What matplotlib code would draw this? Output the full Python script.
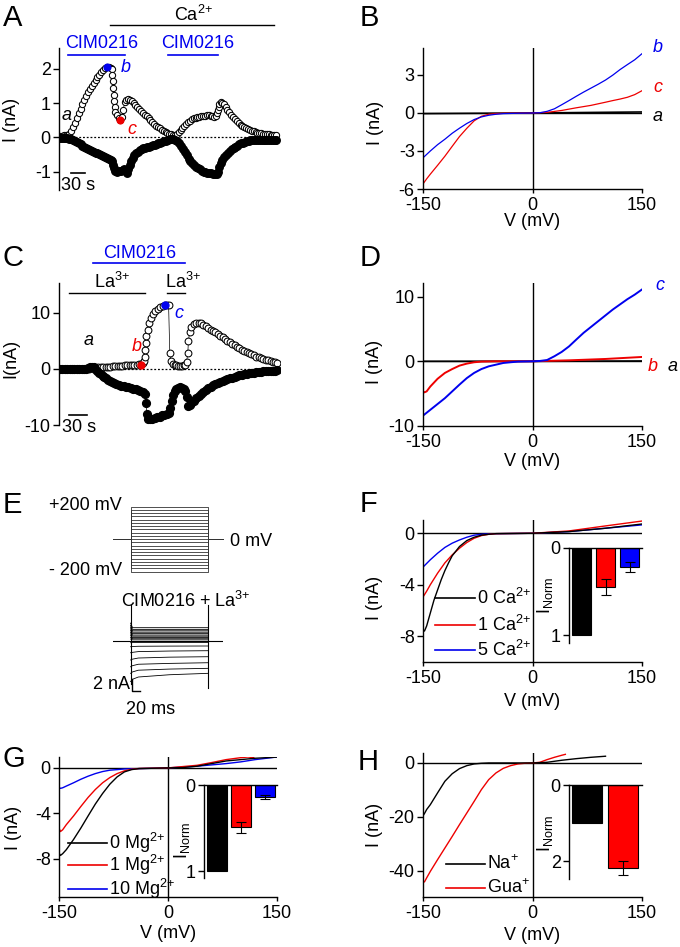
import numpy as np
import matplotlib
matplotlib.use('Agg')
import matplotlib.pyplot as plt

plt.rcParams['font.family'] = ['Liberation Sans', 'DejaVu Sans']
plt.rcParams['font.size'] = 13
plt.rcParams['mathtext.fontset'] = 'custom'
plt.rcParams['mathtext.rm'] = 'Liberation Sans'
plt.rcParams['mathtext.it'] = 'Liberation Sans:italic'
plt.rcParams['axes.unicode_minus'] = False
plt.rcParams['axes.linewidth'] = 1.0

W, H = 680, 947
BLUE = '#0000ee'
RED = '#ee0000'

# ---------------- data ----------------
# A: time course (s), open = outward current, filled = inward current (nA)
a_open_t = [0, 4, 8, 12, 16, 20, 24, 28, 32, 36, 40, 44, 48, 52, 56, 60, 64, 68, 72, 76, 80, 84, 88, 92,
            96, 100, 104, 108, 111, 112, 113, 114, 115, 116, 117, 118, 121, 125, 129, 133, 135, 138, 141,
            145, 149, 153, 157, 161, 165, 169, 173, 177, 181, 185, 189, 193, 197, 201, 205, 209, 213, 217,
            221, 225, 229, 233, 237, 241, 245, 249, 253, 257, 261, 265, 269, 273, 277, 281, 285, 289, 293,
            297, 301, 305, 309, 313, 317, 321, 325, 329, 332, 334, 336, 338, 340, 343, 346, 349, 353, 357,
            361, 365, 369, 373, 377, 381, 385, 389, 393, 397, 401, 405, 409, 413, 417, 421, 425, 429, 433,
            437, 441, 445, 449, 453, 457, 461]
a_open_i = [0.05, 0.05, 0.06, 0.06, 0.07, 0.1, 0.18, 0.3, 0.42, 0.55, 0.7, 0.84, 0.98, 1.1, 1.22, 1.32,
            1.42, 1.51, 1.6, 1.68, 1.75, 1.83, 1.9, 1.96, 2.02, 2.06, 2.06, 2.03, 2.0, 1.83, 1.64, 1.44,
            1.25, 1.05, 0.9, 0.75, 0.66, 0.57, 0.51, 0.6, 0.8, 1.03, 1.1, 1.13, 1.1, 1.06, 1.0, 0.95, 0.89,
            0.83, 0.78, 0.72, 0.66, 0.61, 0.56, 0.5, 0.44, 0.39, 0.34, 0.3, 0.26, 0.22, 0.19, 0.16, 0.13,
            0.11, 0.09, 0.07, 0.08, 0.11, 0.16, 0.22, 0.28, 0.32, 0.38, 0.44, 0.49, 0.53, 0.55, 0.57, 0.58,
            0.6, 0.61, 0.62, 0.63, 0.64, 0.64, 0.63, 0.61, 0.6, 0.63, 0.7, 0.8, 0.9, 0.97, 1.02, 1.01, 0.96,
            0.89, 0.81, 0.74, 0.66, 0.59, 0.53, 0.47, 0.42, 0.37, 0.32, 0.29, 0.26, 0.23, 0.21, 0.19, 0.17,
            0.15, 0.14, 0.13, 0.12, 0.11, 0.1, 0.1, 0.09, 0.08, 0.08, 0.07, 0.07]
a_fill_t = [0, 4, 8, 12, 16, 20, 24, 28, 32, 36, 40, 44, 48, 52, 56, 60, 64, 68, 72, 76, 80, 84, 88, 92,
            96, 100, 104, 108, 111, 113, 115, 118, 122, 126, 130, 134, 137, 140, 143, 146, 149, 152, 155,
            158, 162, 166, 170, 174, 178, 182, 186, 190, 194, 198, 202, 206, 210, 214, 218, 222, 226, 230,
            234, 238, 242, 246, 250, 254, 258, 262, 266, 270, 274, 278, 282, 286, 290, 294, 298, 302, 306,
            310, 314, 318, 322, 326, 330, 334, 337, 340, 343, 346, 350, 354, 358, 362, 366, 370, 374, 378,
            382, 386, 390, 394, 398, 402, 406, 410, 414, 418, 422, 426, 430, 434, 438, 442, 446, 450, 454,
            458, 461]
a_fill_i = [-0.03, -0.03, -0.03, -0.03, -0.03, -0.04, -0.06, -0.08, -0.1, -0.13, -0.17, -0.2, -0.24,
            -0.28, -0.31, -0.34, -0.37, -0.4, -0.43, -0.45, -0.47, -0.5, -0.52, -0.55, -0.58, -0.61, -0.63,
            -0.66, -0.7, -0.8, -0.9, -0.98, -1.0, -0.99, -0.99, -0.95, -0.93, -0.98, -1.03, -0.92, -0.8,
            -0.68, -0.6, -0.53, -0.47, -0.42, -0.38, -0.35, -0.32, -0.3, -0.28, -0.27, -0.25, -0.23, -0.22,
            -0.2, -0.18, -0.16, -0.14, -0.12, -0.1, -0.08, -0.06, -0.05, -0.05, -0.07, -0.1, -0.17, -0.24,
            -0.33, -0.43, -0.53, -0.62, -0.7, -0.76, -0.82, -0.87, -0.9, -0.94, -0.98, -1.0, -1.02, -1.03,
            -1.04, -1.05, -1.06, -1.06, -1.06, -1.0, -0.88, -0.76, -0.66, -0.58, -0.51, -0.45, -0.39, -0.34,
            -0.3, -0.27, -0.24, -0.21, -0.18, -0.16, -0.14, -0.12, -0.1, -0.09, -0.08, -0.07, -0.07, -0.07,
            -0.07, -0.07, -0.07, -0.07, -0.07, -0.07, -0.07, -0.07, -0.07, -0.07]
a_mark_b = (100, 2.06)
a_mark_c = (129, 0.51)

# C: time course with La3+
c_open_t = [0, 4, 8, 12, 16, 20, 24, 28, 32, 36, 40, 44, 48, 52, 56, 60, 64, 68, 72, 76, 80, 84, 88, 92,
            96, 100, 104, 108, 112, 116, 120, 124, 128, 132, 135, 138, 140, 141, 142, 143, 144, 146, 148,
            151, 155, 159, 163, 167, 171, 175, 179, 181, 183, 185, 188, 191, 194, 197, 200, 203, 206, 209,
            211, 213, 214, 216, 219, 223, 227, 231, 235, 239, 243, 247, 251, 255, 259, 263, 267, 271, 275,
            279, 283, 287, 291, 295, 299, 303, 307, 311, 315, 319, 323, 327, 331, 335, 339, 343, 347, 351,
            355, 359, 362]
c_open_i = [0.0, 0.0, 0.0, 0.0, 0.0, 0.0, 0.0, 0.0, 0.0, 0.0, 0.0, 0.0, 0.05, 0.15, 0.2, 0.22, 0.25,
            0.28, 0.32, 0.35, 0.38, 0.42, 0.45, 0.5, 0.53, 0.57, 0.6, 0.63, 0.66, 0.7, 0.72, 0.75, 0.77,
            0.78, 0.8, 1.0, 1.4, 2.2, 3.4, 4.6, 5.8, 6.9, 8.1, 9.1, 9.8, 10.3, 10.7, 11.0, 11.2, 11.35,
            11.35, 11.3, 2.8, 1.35, 0.9, 0.75, 0.65, 0.6, 0.6, 0.6, 0.62, 0.7, 1.3, 2.8, 4.9, 6.6, 7.5,
            8.0, 8.2, 8.25, 8.1, 7.9, 7.6, 7.3, 7.0, 6.8, 6.5, 6.2, 5.9, 5.6, 5.3, 5.0, 4.75, 4.5, 4.2,
            3.95, 3.7, 3.45, 3.2, 3.0, 2.8, 2.6, 2.4, 2.2, 2.05, 1.9, 1.75, 1.6, 1.5, 1.35, 1.25, 1.15, 1.1]
c_fill_t = [0, 4, 8, 12, 16, 20, 24, 28, 32, 36, 40, 44, 47, 50, 53, 56, 59, 62, 65, 68, 71, 74, 77, 80,
            83, 86, 90, 94, 98, 102, 106, 110, 114, 118, 122, 126, 130, 134, 138, 141, 143, 145, 147, 150,
            154, 158, 162, 166, 170, 174, 178, 182, 184, 186, 188, 191, 194, 197, 200, 203, 206, 209, 211,
            213, 216, 219, 223, 227, 231, 235, 239, 243, 247, 251, 255, 259, 263, 267, 271, 275, 279, 283,
            287, 291, 295, 299, 303, 307, 311, 315, 319, 323, 327, 331, 335, 339, 343, 347, 351, 355, 359,
            362]
c_fill_i = [0.0, 0.0, 0.0, 0.0, 0.0, 0.0, 0.0, 0.0, 0.0, 0.0, 0.0, 0.0, 0.1, 0.25, 0.35, 0.3, 0.05, -0.4,
            -0.75, -1.0, -1.25, -1.5, -1.7, -1.9, -2.1, -2.3, -2.5, -2.7, -2.9, -3.0, -3.1, -3.2, -3.3,
            -3.45, -3.55, -3.65, -3.75, -3.9, -4.1, -4.5, -6.0, -8.1, -8.9, -9.0, -8.9, -8.8, -8.6, -8.5,
            -8.3, -8.2, -8.0, -7.8, -7.0, -5.8, -4.6, -3.9, -3.5, -3.35, -3.3, -3.4, -3.6, -4.0, -5.0, -6.6,
            -6.5, -6.1, -5.7, -5.2, -4.8, -4.4, -4.05, -3.75, -3.45, -3.15, -2.9, -2.7, -2.5, -2.3, -2.15,
            -2.0, -1.85, -1.7, -1.55, -1.42, -1.3, -1.18, -1.08, -0.98, -0.88, -0.8, -0.72, -0.65, -0.58,
            -0.53, -0.48, -0.44, -0.4, -0.37, -0.34, -0.31, -0.29, -0.28]
c_mark_b = (135, 0.7)
c_mark_c = (175, 11.35)

# B: I-V curves a, b, c
b_v_a = [-150, 0, 150]
b_i_a = [-0.05, 0.0, 0.08]
b_v_b = [-150, -140, -130, -120, -110, -100, -90, -80, -70, -60, -50, -40, -20, 0, 10, 20, 30, 40, 50,
         60, 70, 80, 90, 100, 110, 120, 130, 140, 150]
b_i_b = [-3.54, -3.0, -2.5, -2.07, -1.6, -1.2, -0.83, -0.52, -0.31, -0.18, -0.1, -0.05, -0.02, 0.0,
         0.02, 0.13, 0.33, 0.65, 0.98, 1.32, 1.65, 1.96, 2.27, 2.6, 2.99, 3.43, 3.82, 4.2, 4.68]
b_v_c = [-150, -145, -140, -130, -120, -110, -100, -90, -80, -70, -60, -50, -40, 0, 20, 40, 60, 80, 100,
         110, 120, 130, 140, 150]
b_i_c = [-5.6, -5.2, -4.83, -4.13, -3.41, -2.63, -1.86, -1.21, -0.62, -0.26, -0.1, -0.05, -0.02, 0.0,
         0.05, 0.2, 0.41, 0.6, 0.85, 0.98, 1.1, 1.24, 1.45, 1.76]

# D: I-V curves a, b, c
d_v_a = [-150, 0, 150]
d_i_a = [0.0, 0.0, 0.05]
d_v_b = [-150, -148, -145, -140, -130, -120, -110, -100, -90, -80, -70, -50, 0, 50, 100, 150]
d_i_b = [-4.65, -4.8, -4.65, -3.9, -2.7, -1.8, -1.2, -0.67, -0.36, -0.15, -0.05, 0.0, 0.0, 0.15, 0.36,
         0.67]
d_v_c = [-150, -140, -130, -120, -110, -100, -90, -80, -70, -60, -50, -40, -30, -20, 0, 10, 20, 30, 40,
         50, 60, 70, 80, 90, 100, 110, 120, 130, 140, 150]
d_i_c = [-8.4, -7.5, -6.6, -5.7, -4.65, -3.6, -2.6, -1.8, -1.2, -0.78, -0.52, -0.26, -0.15, -0.05, 0.0,
         0.05, 0.2, 0.78, 1.45, 2.3, 3.36, 4.4, 5.3, 6.2, 7.1, 8.0, 8.8, 9.6, 10.3, 11.1]

# E: voltage protocol (mV) and currents (nA) at sample times (ms)
e_volt = [-200, -180, -160, -140, -120, -100, -80, -60, -40, -20, 0, 20, 40, 60, 80, 100, 120, 140,
          160, 180, 200]
e_time = [0, 5, 20, 100, 200]
e_curr = [[-7.2, -6.8, -6.4, -6.0, -5.75], [-5.75, -5.5, -5.2, -5.0, -4.87],
          [-4.6, -4.4, -4.15, -4.0, -3.88], [-3.4, -3.25, -3.05, -2.9, -2.82],
          [-2.12, -2.05, -1.92, -1.82, -1.76], [-1.06, -1.02, -0.98, -0.95, -0.93],
          [-0.35, -0.33, -0.32, -0.3, -0.3], [-0.1, -0.1, -0.1, -0.1, -0.1],
          [-0.03, -0.03, -0.03, -0.03, -0.03], [0.0, 0.0, 0.0, 0.0, 0.0], [0.0, 0.0, 0.0, 0.0, 0.0],
          [0.3, 0.15, 0.15, 0.15, 0.15], [0.6, 0.35, 0.35, 0.35, 0.35], [0.9, 0.55, 0.55, 0.55, 0.55],
          [1.2, 0.8, 0.8, 0.8, 0.8], [1.5, 1.0, 1.0, 1.0, 1.0], [1.8, 1.25, 1.25, 1.25, 1.25],
          [2.1, 1.5, 1.5, 1.5, 1.5], [2.4, 1.75, 1.75, 1.75, 1.75], [2.7, 2.0, 2.0, 2.0, 2.0],
          [3.1, 2.3, 2.3, 2.3, 2.3]]
e_pre, e_step, e_post = -46, 200, 237

# F: Ca2+ dependence
f_labels = ['0 Ca$^{2{+}}$', '1 Ca$^{2{+}}$', '5 Ca$^{2{+}}$']
f_v0 = [-150, -148, -145, -140, -135, -130, -125, -120, -115, -110, -100, -90, -80, -70, -60, -50, 0, 50,
        100, 150]
f_i0 = [-7.48, -7.6, -7.2, -6.2, -5.2, -4.4, -3.6, -2.9, -2.3, -1.75, -1.03, -0.57, -0.31, -0.15, -0.08,
        -0.03, 0.0, 0.13, 0.39, 0.72]
f_v1 = [-150, -145, -140, -130, -120, -110, -100, -90, -80, -70, -60, -50, 0, 50, 100, 150]
f_i1 = [-4.95, -4.5, -4.0, -3.1, -2.3, -1.68, -1.16, -0.72, -0.39, -0.18, -0.08, -0.03, 0.0, 0.18, 0.57,
        0.95]
f_v5 = [-150, -140, -130, -120, -110, -100, -90, -80, -70, -60, 0, 50, 100, 150]
f_i5 = [-2.63, -2.06, -1.55, -1.1, -0.77, -0.52, -0.31, -0.15, -0.08, -0.04, 0.0, 0.13, 0.39, 0.65]
f_norm = [1.0, 0.45, 0.22]
f_err = [0.0, 0.09, 0.06]

# G: Mg2+ dependence
g_labels = ['0 Mg$^{2{+}}$', '1 Mg$^{2{+}}$', '10 Mg$^{2{+}}$']
g_v0 = [-150, -148, -145, -140, -130, -120, -110, -100, -90, -80, -70, -60, -50, -40, 0, 20, 40, 60, 80,
        100, 120, 150]
g_i0 = [-7.5, -7.7, -7.55, -7.2, -6.3, -5.3, -4.23, -3.18, -2.25, -1.43, -0.79, -0.35, -0.15, -0.06,
        0.0, 0.03, 0.15, 0.38, 0.61, 0.73, 0.85, 0.95]
g_v1 = [-150, -148, -145, -140, -130, -120, -110, -100, -90, -80, -70, -60, -50, -40, 0, 40, 60, 80,
        100, 110, 118]
g_i1 = [-5.3, -5.6, -5.45, -5.0, -4.23, -3.4, -2.6, -1.9, -1.31, -0.85, -0.5, -0.26, -0.12, -0.05, 0.0,
        0.23, 0.47, 0.73, 0.9, 0.96, 0.9]
g_v10 = [-150, -148, -145, -140, -130, -120, -110, -100, -90, -80, -70, -60, 0, 40, 80, 100, 120, 150]
g_i10 = [-1.72, -1.8, -1.75, -1.6, -1.31, -1.0, -0.73, -0.5, -0.32, -0.2, -0.15, -0.09, 0.0, 0.15, 0.38,
         0.53, 0.73, 0.96]
g_norm = [1.0, 0.49, 0.14]
g_err = [0.0, 0.065, 0.02]

# H: Na+ vs guanidinium
h_labels = ['Na$^{+}$', 'Gua$^{+}$']
h_v_na = [-150, -148, -145, -140, -130, -120, -110, -100, -90, -80, -70, -60, 0, 20, 40, 60, 80, 100]
h_i_na = [-19.6, -18.8, -17.3, -15.5, -11.1, -6.8, -4.0, -2.1, -1.0, -0.37, -0.12, 0.0, 0.0, 0.25, 1.0,
          1.6, 2.1, 2.5]
h_v_gua = [-150, -148, -145, -140, -130, -120, -110, -100, -90, -80, -70, -60, -50, -40, -30, -20, -10, 0,
           10, 20, 30, 40, 45]
h_i_gua = [-44.0, -44.2, -42.7, -40.3, -35.9, -31.6, -27.3, -22.9, -18.6, -14.3, -9.9, -6.2, -3.7, -2.0,
           -1.0, -0.37, -0.1, 0.0, 0.25, 1.24, 2.1, 2.85, 3.2]
h_norm = [1.0, 2.18]
h_err = [0.0, 0.18]

# ---------------- helpers ----------------
fig = plt.figure(figsize=(6.8, 9.47), dpi=100)


def add_ax(x0, y0, x1, y1):
    return fig.add_axes([x0 / W, 1 - y1 / H, (x1 - x0) / W, (y1 - y0) / H])


def ftext(x, y, s, **kw):
    kw.setdefault('ha', 'center')
    kw.setdefault('va', 'center')
    fig.text(x / W, 1 - y / H, s, **kw)


def letter(x, y, s):
    fig.text(x / W, 1 - y / H, s, fontsize=21, ha='left', va='baseline')


def trace_axes(ax, xlim, ylim, yticks):
    for s in ('top', 'right', 'bottom'):
        ax.spines[s].set_visible(False)
    ax.set_xticks([])
    ax.set_xlim(*xlim)
    ax.set_ylim(*ylim)
    ax.set_yticks(yticks)
    ax.tick_params(axis='y', length=4, width=1, pad=2)
    ax.patch.set_alpha(0)


def iv_axes(ax, ylim, yticks):
    ax.spines['top'].set_visible(False)
    ax.spines['right'].set_visible(False)
    ax.set_xlim(-150, 150)
    ax.set_ylim(*ylim)
    ax.set_xticks([-150, 0, 150])
    ax.set_yticks(yticks)
    ax.axvline(0, color='k', lw=1.0)
    ax.axhline(0, color='k', lw=1.0)
    ax.tick_params(axis='y', length=4, width=1, pad=2)
    ax.tick_params(axis='x', length=3, width=1, pad=3)
    ax.patch.set_alpha(0)


def inset_bars(ax, vals, errs, colors, ymax, yticks, width):
    x = np.arange(len(vals))
    ax.bar(x, vals, width=width, color=colors, edgecolor='k', lw=0.8)
    ax.errorbar(x[1:], vals[1:], yerr=errs[1:], fmt='none', ecolor='k', elinewidth=0.8, capsize=3.5,
                capthick=0.8)
    ax.set_ylim(ymax, 0)
    ax.set_yticks(yticks)
    ax.spines['bottom'].set_visible(False)
    ax.spines['right'].set_visible(False)
    ax.set_xticks([])
    ax.tick_params(axis='y', length=4, width=1, pad=2)
    ax.patch.set_alpha(0)


def legend_rows(x0, x1, ys, colors, labels):
    for y, c, lab in zip(ys, colors, labels):
        fig.add_artist(plt.Line2D([x0 / W, x1 / W], [1 - y / H, 1 - y / H], color=c, lw=1.2))
        ftext(x1 + 2, y, lab, ha='left')


open_kw = dict(color='k', lw=0.5, marker='o', mfc='w', mec='k', mew=0.75)
fill_kw = dict(color='k', lw=0.5, marker='o', mfc='k', mec='k')

# ---------------- A ----------------
axA = add_ax(59, 48, 280, 190)
trace_axes(axA, (-2, 469), (-1.54, 2.61), [-1, 0, 1, 2])
axA.plot([a_open_t[0], a_open_t[-1]], [0, 0], color='k', lw=0.9, ls=(0, (1.5, 1.5)))
axA.plot(a_open_t, a_open_i, ms=4.5, **open_kw)
axA.plot(a_fill_t, a_fill_i, ms=5.4, **fill_kw)
axA.plot(*a_mark_b, 'o', ms=4.8, color=BLUE)
axA.plot(*a_mark_c, 'o', ms=4.8, color=RED)
axA.plot([107, 456], [3.28, 3.28], color='k', lw=1.0, clip_on=False)
axA.text(285, 3.41, 'Ca$^{2{+}}$', ha='center', va='baseline')
for t0, t1, tc in [(17, 139, 88), (231, 336, 294)]:
    axA.plot([t0, t1], [2.41, 2.41], color=BLUE, lw=1.2, clip_on=False)
    axA.text(tc, 2.6, 'CIM0216', color=BLUE, ha='center', va='baseline')
axA.plot([23.6, 53.6], [-1.04, -1.04], color='k', lw=1.2)
axA.text(38.6, -1.42, '30 s', ha='center', va='center')
ftext(11, 120, 'I (nA)', rotation=90)
ftext(67, 115, 'a', style='italic')
ftext(126, 68, 'b', style='italic', color=BLUE)
ftext(132, 129, 'c', style='italic', color=RED)
letter(3, 26, 'A')

# ---------------- B ----------------
axB = add_ax(423, 48, 642, 189)
iv_axes(axB, (-6, 5.13), [-6, -3, 0, 3])
axB.plot(b_v_a, b_i_a, color='k', lw=1.2)
axB.plot(b_v_c, b_i_c, color=RED, lw=0.9)
axB.plot(b_v_b, b_i_b, color=BLUE, lw=0.9)
ftext(375, 123, 'I (nA)', rotation=90)
ftext(532, 221, 'V (mV)')
ftext(658, 47, 'b', style='italic', color=BLUE)
ftext(658, 88, 'c', style='italic', color=RED)
ftext(658, 116, 'a', style='italic')
letter(360, 26, 'B')

# ---------------- C ----------------
axC = add_ax(59, 283, 280, 425)
trace_axes(axC, (-1.7, 366.7), (-10, 15.3), [-10, 0, 10])
axC.plot([c_open_t[0], c_open_t[-1]], [0, 0], color='k', lw=0.9, ls=(0, (1.5, 1.5)))
axC.plot(c_open_t, c_open_i, ms=4.9, **open_kw)
axC.plot(c_fill_t, c_fill_i, ms=5.6, **fill_kw)
axC.plot(*c_mark_b, 'o', ms=5.0, color=RED)
axC.plot(*c_mark_c, 'o', ms=5.0, color=BLUE)
axC.plot([55, 208], [18.9, 18.9], color=BLUE, lw=1.2, clip_on=False)
axC.text(132, 19.7, 'CIM0216', color=BLUE, ha='center', va='baseline')
for t0, t1, tc in [(15, 142, 87), (178, 208, 205)]:
    axC.plot([t0, t1], [13.5, 13.5], color='k', lw=1.0, clip_on=False)
    axC.text(tc, 14.4, 'La$^{3{+}}$', ha='center', va='baseline')
axC.plot([15, 45], [-8.3, -8.3], color='k', lw=1.2)
axC.text(31, -10.5, '30 s', ha='center', va='center', clip_on=False)
ftext(11, 358, 'I(nA)', rotation=90)
ftext(89, 340, 'a', style='italic')
ftext(137, 346, 'b', style='italic', color=RED)
ftext(179, 313, 'c', style='italic', color=BLUE)
letter(3, 266, 'C')

# ---------------- D ----------------
axD = add_ax(423, 283, 642, 426)
iv_axes(axD, (-10, 12.1), [-10, 0, 10])
axD.plot(d_v_a, d_i_a, color='k', lw=1.2)
axD.plot(d_v_b, d_i_b, color=RED, lw=1.4)
axD.plot(d_v_c, d_i_c, color=BLUE, lw=1.4)
ftext(374, 362, 'I (nA)', rotation=90)
ftext(532, 461, 'V (mV)')
ftext(660, 286, 'c', style='italic', color=BLUE)
ftext(653, 366, 'b', style='italic', color=RED)
ftext(673, 366, 'a', style='italic')
letter(360, 266, 'D')

# ---------------- E ----------------
axP = add_ax(112.7, 506.7, 222.7, 571.7)
axP.axis('off')
axP.set_xlim(e_pre, e_post)
axP.set_ylim(-200, 200)
for v in e_volt:
    axP.plot([e_pre, 0, 0, e_step, e_step, e_post], [0, 0, v, v, 0, 0], color='#333333', lw=0.6,
             clip_on=False)
axP.text(-22, 210, '+200 mV', ha='right', va='center')
axP.text(-22, -190, '- 200 mV', ha='right', va='center')
axP.text(256, -15, '0 mV', ha='left', va='center')

axI = add_ax(112.7, 600, 222.7, 712)
axI.axis('off')
axI.set_xlim(e_pre, e_post)
axI.set_ylim(-12.57, 7.18)
axI.plot([e_pre, e_post], [0, 0], color='k', lw=0.8)
for row in e_curr:
    axI.plot(e_time, row, color='k', lw=0.6)
axI.plot([0, 0], [6.3, -7.6], color='k', lw=0.8)
axI.plot([e_step, e_step], [6.3, -8.3], color='k', lw=0.8)
axI.plot([4, 4, 24], [-6.8, -8.8, -8.8], color='k', lw=1.0, clip_on=False)
axI.text(-2, -7.8, '2 nA', ha='right', va='center')
axI.text(52, -12.2, '20 ms', ha='center', va='center')
axI.text(-25, 7.0, 'CIM0216 + La$^{3{+}}$', ha='left', va='center')
letter(3, 513, 'E')

# ---------------- F ----------------
axF = add_ax(423, 520, 642, 662)
iv_axes(axF, (-10, 1.03), [-8, -4, 0])
axF.plot(f_v5, f_i5, color=BLUE, lw=1.0)
axF.plot(f_v1, f_i1, color=RED, lw=1.0)
axF.plot(f_v0, f_i0, color='k', lw=1.0)
ftext(374, 598, 'I (nA)', rotation=90)
ftext(532, 701, 'V (mV)')
legend_rows(435, 475, [598, 625, 650], ['k', RED, BLUE], f_labels)
axFi = add_ax(569, 548, 642, 643)
inset_bars(axFi, f_norm, f_err, ['k', '#ff0000', '#0000ff'], 1.09, [0, 1], 0.83)
axFi.set_xlim(-0.52, 2.52)
ftext(545, 595, 'I$_{\\mathrm{Norm}}$', rotation=90)
letter(360, 512, 'F')

# ---------------- G ----------------
axG = add_ax(59, 757, 277, 897)
iv_axes(axG, (-11.36, 0.96), [-8, -4, 0])
axG.plot(g_v10, g_i10, color=BLUE, lw=1.0)
axG.plot(g_v1, g_i1, color=RED, lw=1.0)
axG.plot(g_v0, g_i0, color='k', lw=1.0)
ftext(14, 828, 'I (nA)', rotation=90)
ftext(168, 933, 'V (mV)')
legend_rows(68, 107, [843, 865, 889], ['k', RED, BLUE], g_labels)
axGi = add_ax(204, 785, 277, 878)
inset_bars(axGi, g_norm, g_err, ['k', '#ff0000', '#0000ff'], 1.08, [0, 1], 0.83)
axGi.set_xlim(-0.54, 2.5)
ftext(182, 840, 'I$_{\\mathrm{Norm}}$', rotation=90)
letter(3, 767, 'G')

# ---------------- H ----------------
axH = add_ax(423, 753, 642, 897)
iv_axes(axH, (-49.8, 3.7), [-40, -20, 0])
axH.plot(h_v_gua, h_i_gua, color=RED, lw=1.0)
axH.plot(h_v_na, h_i_na, color='k', lw=1.0)
ftext(374, 825, 'I (nA)', rotation=90)
ftext(532, 935, 'V (mV)')
legend_rows(446, 485, [864, 888], ['k', RED], h_labels)
axHi = add_ax(569, 785, 642, 879)
inset_bars(axHi, h_norm, h_err, ['k', '#ff0000'], 2.47, [0, 2], 0.82)
axHi.set_xlim(-0.49, 1.51)
ftext(545, 833, 'I$_{\\mathrm{Norm}}$', rotation=90)
letter(358, 770, 'H')

fig.savefig('out.png', dpi=100)
